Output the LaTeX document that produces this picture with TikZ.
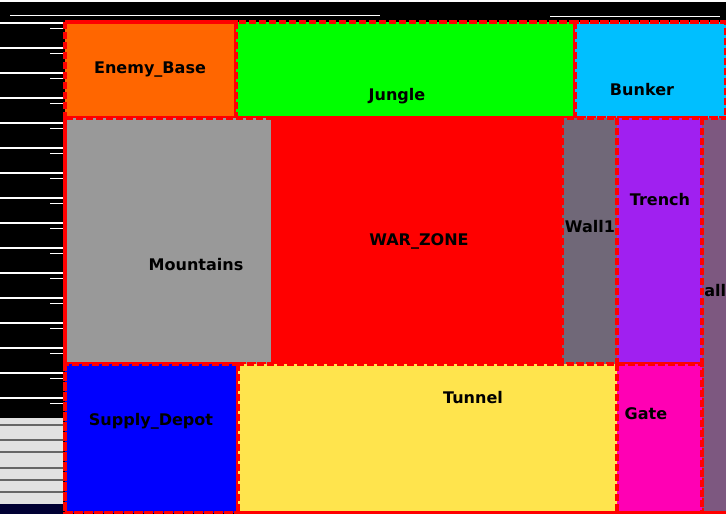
\documentclass[tikz,border=0pt]{standalone}
\usepackage{fontspec}
\setmainfont{DejaVu Sans}
\usepackage{tikz}
\definecolor{baseorange}{RGB}{255,102,0}
\definecolor{junglegreen}{RGB}{0,255,0}
\definecolor{bunkercyan}{RGB}{0,191,255}
\definecolor{mountgray}{RGB}{153,153,153}
\definecolor{wallgray}{RGB}{112,104,120}
\definecolor{trenchpurple}{RGB}{160,32,240}
\definecolor{walltwo}{RGB}{125,88,128}
\definecolor{depotblue}{RGB}{0,0,255}
\definecolor{tunnelyellow}{RGB}{255,228,77}
\definecolor{gatepink}{RGB}{255,0,180}
\definecolor{noisegray}{RGB}{225,225,225}
\tikzset{
zoneframe/.style={draw=red,line width=0.1cm,dash pattern=on 0.175cm off 0.075cm},
tile/.style={draw=red,line width=0.1cm,dash pattern=on 0.175cm off 0.075cm},
zonelabel/.style={font=\fontsize{11.4}{13}\selectfont\bfseries,inner sep=0pt,text=black},
noise/.style={white,line width=0.05cm}
}
\begin{document}
\begin{tikzpicture}[x=0.025cm,y=-0.025cm]
\useasboundingbox (0,0) rectangle (726,514);
% screen noise round the map
\fill[black] (0,0) rectangle (726,514);
\foreach \y in {23,48,73,98,123,148,173,198,223,248,273,298,323,348,373,398}{
  \draw[noise] (0,\y) -- (63,\y);
  \draw[noise,line width=0.025cm] (50,\y+5) -- (63,\y+5);
}
\fill[noisegray] (0,418) rectangle (63,504);
\foreach \y in {425,440,452,468,480,492}
  \draw[black!60,line width=0.03cm] (0,\y) -- (63,\y);
\fill[black!80!blue] (0,504) rectangle (63,514);
\draw[noise,line width=0.03cm] (0,1) -- (726,1);
\draw[noise,line width=0.025cm] (550,16) -- (720,16);
\draw[noise,line width=0.025cm] (10,15) -- (380,15);
% the map
\fill[red] (65,22) rectangle (726,513);
\filldraw[tile,fill=baseorange] (65,22) rectangle (236,118);
\filldraw[tile,fill=junglegreen] (236,22) rectangle (575,118);
\filldraw[tile,fill=bunkercyan] (575,22) rectangle (726,118);
\filldraw[tile,fill=mountgray] (65,118) rectangle (273,364);
\filldraw[tile,fill=red] (273,118) rectangle (562,364);
\filldraw[tile,fill=wallgray] (562,118) rectangle (617,364);
\filldraw[tile,fill=trenchpurple] (617,118) rectangle (702,364);
\filldraw[tile,fill=walltwo] (702,118) rectangle (740,513);
\filldraw[tile,fill=depotblue] (65,364) rectangle (238,513);
\filldraw[tile,fill=tunnelyellow] (238,364) rectangle (617,513);
\filldraw[tile,fill=gatepink] (617,364) rectangle (702,513);
\draw[zoneframe] (65,22) rectangle (740,513);
\node[zonelabel] (enemy) at (150,70) {Enemy\_Base};
\node[zonelabel] (jungle) at (397,96) {Jungle};
\node[zonelabel] (bunker) at (642,90) {Bunker};
\node[zonelabel] (mount) at (196,265) {Mountains};
\node[zonelabel] (war) at (419,241) {WAR\_ZONE};
\node[zonelabel] (wallone) at (590,227) {Wall1};
\node[zonelabel] (trench) at (660,200) {Trench};
\node[zonelabel,anchor=west] (wallb) at (704,291) {all};
\node[zonelabel] (depot) at (151,421) {Supply\_Depot};
\node[zonelabel] (tunnel) at (473,398) {Tunnel};
\node[zonelabel] (gate) at (646,414) {Gate};
\end{tikzpicture}
\end{document}
